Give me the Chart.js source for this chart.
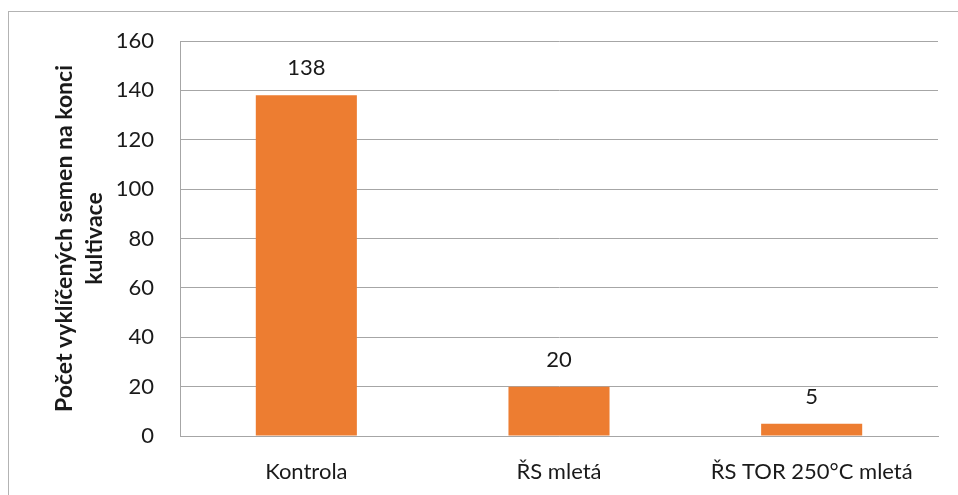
<!DOCTYPE html>
<html>
<head>
<meta charset="utf-8">
<script src="https://cdn.jsdelivr.net/npm/chart.js@4"></script>
<style>
  html, body { margin: 0; padding: 0; background: #fff; overflow: hidden; }
  #wrap { position: relative; width: 958px; height: 495px; }
  #frame {
    position: absolute; left: 8px; top: 11px; width: 1000px; height: 600px;
    border-left: 1px solid #b3b3b3; border-top: 1px solid #b3b3b3;
    pointer-events: none;
  }
</style>
</head>
<body>
<div id="wrap">
  <canvas id="chart" width="958" height="495"></canvas>
  <div id="frame"></div>
</div>
<script>
const categories = ['Kontrola', 'ŘS mletá', 'ŘS TOR 250°C mletá'];
const seedCounts = [138, 20, 5];
const yTicks = [0, 20, 40, 60, 80, 100, 120, 140, 160];
const yTitle = ['Počet vyklíčených semen na konci', 'kultivace'];

const FONT = 'Lato, "Open Sans", sans-serif';

// draws the value above each bar
const valueLabels = {
    id: 'valueLabels',
    afterDatasetsDraw(chart) {
        const ctx = chart.ctx;
        const meta = chart.getDatasetMeta(0);
        ctx.save();
        ctx.font = '22px ' + FONT;
        ctx.fillStyle = '#1a1a1a';
        ctx.textAlign = 'center';
        ctx.textBaseline = 'middle';
        meta.data.forEach((bar, i) => {
            ctx.fillText(String(seedCounts[i]), bar.x, bar.y - 27);
        });
        ctx.restore();
    }
};

Chart.defaults.font.family = FONT;
Chart.defaults.color = '#1a1a1a';

new Chart(document.getElementById('chart'), {
    type: 'bar',
    data: {
        labels: categories,
        datasets: [{
            data: seedCounts,
            backgroundColor: '#ED7D31',
            categoryPercentage: 1,
            barPercentage: 0.4
        }]
    },
    options: {
        responsive: false,
        animation: false,
        layout: { padding: { left: 50, top: 41, right: 20, bottom: 0 } },
        plugins: {
            legend: { display: false },
            tooltip: { enabled: false }
        },
        scales: {
            x: {
                grid: { display: false, drawTicks: false },
                border: { color: '#a6a6a6', width: 1 },
                ticks: { font: { size: 22 }, padding: 23, maxRotation: 0 },
                afterFit(scale) { scale.height = 59; }
            },
            y: {
                min: 0,
                max: 160,
                afterBuildTicks(scale) { scale.ticks = yTicks.map(v => ({ value: v })); },
                grid: { color: '#a6a6a6', drawTicks: false },
                border: { color: '#a6a6a6', width: 1 },
                ticks: { font: { size: 22 }, padding: 26 },
                title: {
                    display: true,
                    text: yTitle,
                    font: { size: 23, weight: 'bold', lineHeight: 1.3 },
                    padding: 0
                },
                afterFit(scale) { scale.width = 130; }
            }
        }
    },
    plugins: [valueLabels]
});
</script>
</body>
</html>
